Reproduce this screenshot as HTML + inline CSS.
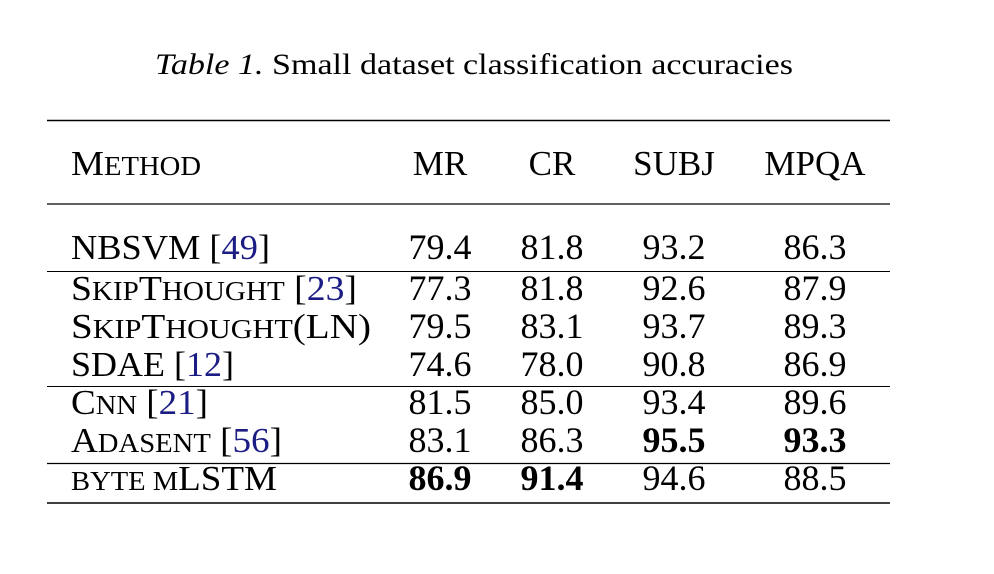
<!DOCTYPE html>
<html><head><meta charset="utf-8"><style>
html,body{margin:0;padding:0;background:#fff;}
svg{display:block;}
text{font-family:"Liberation Serif",serif;fill:#000;}
.b{font-weight:bold;}
.l{fill:#1c1c85;}
.s{font-size:27px;}
</style></head><body>
<svg width="994" height="574" viewBox="0 0 994 574" xmlns="http://www.w3.org/2000/svg">
<text x="474" y="74" font-size="30" text-anchor="middle" textLength="638" lengthAdjust="spacingAndGlyphs"><tspan font-style="italic">Table 1.</tspan> Small dataset classification accuracies</text>
<g stroke="#000">
<line x1="47" y1="120.5" x2="890" y2="120.5" stroke-width="1.5"/>
<line x1="47" y1="204" x2="890" y2="204" stroke-width="1.3"/>
<line x1="47" y1="271.5" x2="890" y2="271.5" stroke-width="1"/>
<line x1="47" y1="386.5" x2="890" y2="386.5" stroke-width="1"/>
<line x1="47" y1="463.5" x2="890" y2="463.5" stroke-width="1.2"/>
<line x1="47" y1="503" x2="890" y2="503" stroke-width="1.5"/>
</g>
<g font-size="35">
<text x="71" y="175" textLength="130" lengthAdjust="spacingAndGlyphs">M<tspan class="s">ETHOD</tspan></text>
<g text-anchor="middle">
<text x="440" y="175">MR</text><text x="552" y="175">CR</text><text x="674" y="175">SUBJ</text><text x="815" y="175">MPQA</text>
</g>
<text x="71" y="259" textLength="199" lengthAdjust="spacingAndGlyphs">NBSVM [<tspan class="l">49</tspan>]</text>
<text x="71" y="300" textLength="286" lengthAdjust="spacingAndGlyphs">S<tspan class="s">KIP</tspan>T<tspan class="s">HOUGHT</tspan> [<tspan class="l">23</tspan>]</text>
<text x="71" y="338" textLength="300" lengthAdjust="spacingAndGlyphs">S<tspan class="s">KIP</tspan>T<tspan class="s">HOUGHT</tspan>(LN)</text>
<text x="71" y="376" textLength="163" lengthAdjust="spacingAndGlyphs">SDAE [<tspan class="l">12</tspan>]</text>
<text x="71" y="414" textLength="137" lengthAdjust="spacingAndGlyphs">C<tspan class="s">NN</tspan> [<tspan class="l">21</tspan>]</text>
<text x="71" y="452" textLength="211" lengthAdjust="spacingAndGlyphs">A<tspan class="s">DASENT</tspan> [<tspan class="l">56</tspan>]</text>
<text x="71" y="490" textLength="206" lengthAdjust="spacingAndGlyphs"><tspan class="s">BYTE M</tspan>LSTM</text>
<g text-anchor="middle" font-size="36">
<text x="440" y="259">79.4</text><text x="552" y="259">81.8</text><text x="674" y="259">93.2</text><text x="815" y="259">86.3</text>
<text x="440" y="300">77.3</text><text x="552" y="300">81.8</text><text x="674" y="300">92.6</text><text x="815" y="300">87.9</text>
<text x="440" y="338">79.5</text><text x="552" y="338">83.1</text><text x="674" y="338">93.7</text><text x="815" y="338">89.3</text>
<text x="440" y="376">74.6</text><text x="552" y="376">78.0</text><text x="674" y="376">90.8</text><text x="815" y="376">86.9</text>
<text x="440" y="414">81.5</text><text x="552" y="414">85.0</text><text x="674" y="414">93.4</text><text x="815" y="414">89.6</text>
<text x="440" y="452">83.1</text><text x="552" y="452">86.3</text><text x="674" y="452" class="b">95.5</text><text x="815" y="452" class="b">93.3</text>
<text x="440" y="490" class="b">86.9</text><text x="552" y="490" class="b">91.4</text><text x="674" y="490">94.6</text><text x="815" y="490">88.5</text>
</g>
</g>
</svg>
</body></html>
